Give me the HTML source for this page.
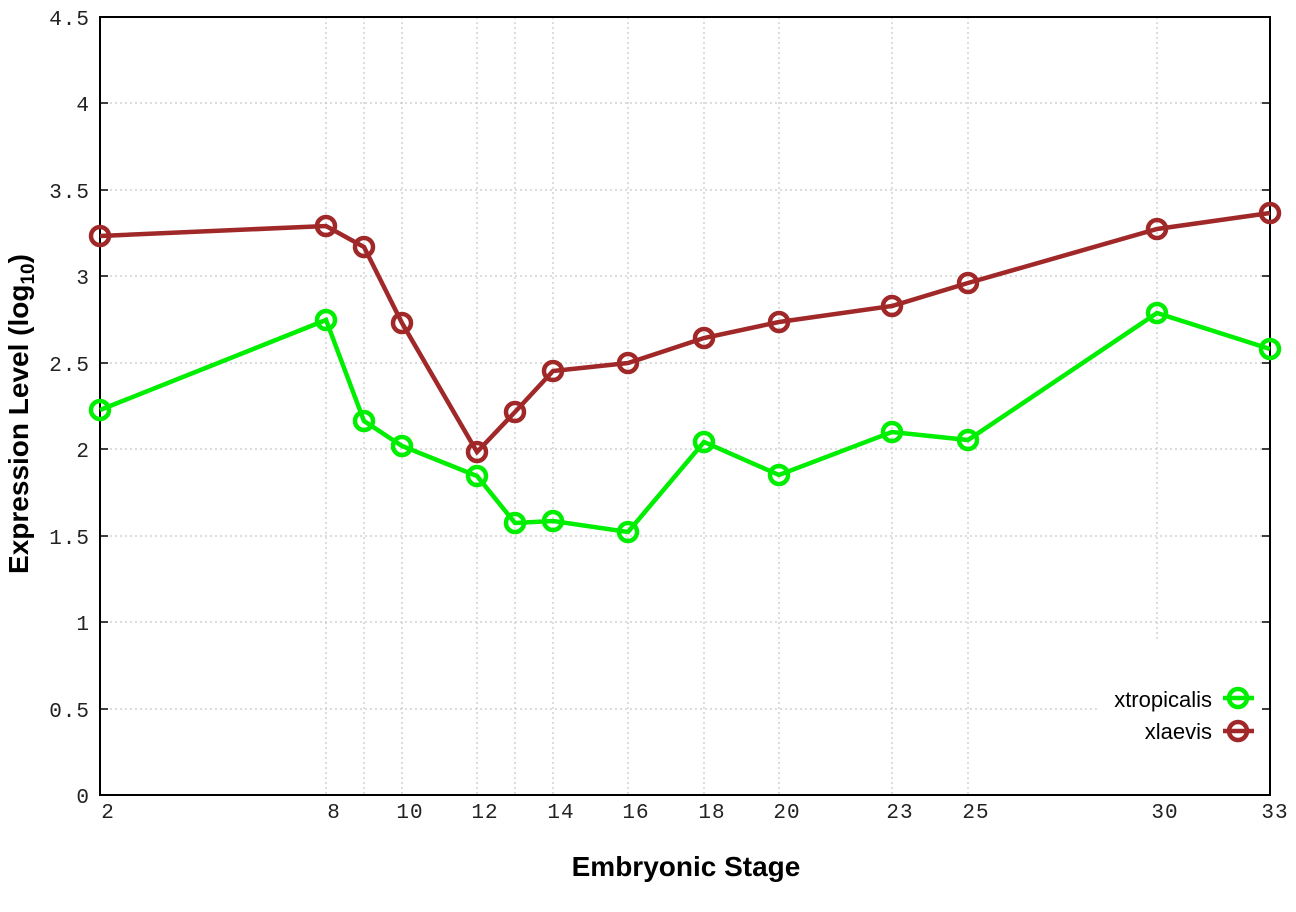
<!DOCTYPE html>
<html><head><meta charset="utf-8"><style>body{margin:0;background:#fff}</style></head><body>
<svg width="1296" height="907" xmlns="http://www.w3.org/2000/svg">
<rect width="1296" height="907" fill="#fff"/>
<g stroke="#bbb" stroke-width="1" stroke-dasharray="2,3">
<line x1="100" y1="103" x2="1270" y2="103"/><line x1="100" y1="190" x2="1270" y2="190"/><line x1="100" y1="276" x2="1270" y2="276"/><line x1="100" y1="363" x2="1270" y2="363"/><line x1="100" y1="449" x2="1270" y2="449"/><line x1="100" y1="536" x2="1270" y2="536"/><line x1="100" y1="622" x2="1270" y2="622"/><line x1="100" y1="709" x2="1100" y2="709"/>
<line x1="326" y1="17" x2="326" y2="795"/><line x1="364" y1="17" x2="364" y2="795"/><line x1="402" y1="17" x2="402" y2="795"/><line x1="477" y1="17" x2="477" y2="795"/><line x1="515" y1="17" x2="515" y2="795"/><line x1="553" y1="17" x2="553" y2="795"/><line x1="628" y1="17" x2="628" y2="795"/><line x1="704" y1="17" x2="704" y2="795"/><line x1="779" y1="17" x2="779" y2="795"/><line x1="892" y1="17" x2="892" y2="795"/><line x1="968" y1="17" x2="968" y2="795"/><line x1="1157" y1="17" x2="1157" y2="640"/>
</g>
<g stroke="#000" stroke-width="1.5">
<line x1="100" y1="103" x2="108" y2="103"/><line x1="100" y1="190" x2="108" y2="190"/><line x1="100" y1="276" x2="108" y2="276"/><line x1="100" y1="363" x2="108" y2="363"/><line x1="100" y1="449" x2="108" y2="449"/><line x1="100" y1="536" x2="108" y2="536"/><line x1="100" y1="622" x2="108" y2="622"/><line x1="100" y1="709" x2="108" y2="709"/>
<line x1="1262" y1="103" x2="1270" y2="103"/><line x1="1262" y1="190" x2="1270" y2="190"/><line x1="1262" y1="276" x2="1270" y2="276"/><line x1="1262" y1="363" x2="1270" y2="363"/><line x1="1262" y1="449" x2="1270" y2="449"/><line x1="1262" y1="536" x2="1270" y2="536"/><line x1="1262" y1="622" x2="1270" y2="622"/><line x1="1262" y1="709" x2="1270" y2="709"/>
</g>
<rect x="100" y="17" width="1170" height="778" fill="none" stroke="#000" stroke-width="2"/>
<g font-family="Liberation Mono, monospace" font-size="21" fill="#222" text-anchor="end" letter-spacing="1">
<text x="90" y="25">4.5</text><text x="90" y="111">4</text><text x="90" y="198">3.5</text><text x="90" y="284">3</text><text x="90" y="371">2.5</text><text x="90" y="457">2</text><text x="90" y="544">1.5</text><text x="90" y="630">1</text><text x="90" y="717">0.5</text><text x="90" y="803">0</text>
</g>
<g font-family="Liberation Mono, monospace" font-size="21" fill="#222" text-anchor="middle" letter-spacing="1">
<text x="108" y="818">2</text><text x="334" y="818">8</text><text x="410" y="818">10</text><text x="485" y="818">12</text><text x="561" y="818">14</text><text x="636" y="818">16</text><text x="712" y="818">18</text><text x="787" y="818">20</text><text x="900" y="818">23</text><text x="976" y="818">25</text><text x="1165" y="818">30</text><text x="1275" y="818">33</text>
</g>
<text x="686" y="876" font-family="Liberation Sans, sans-serif" font-weight="bold" font-size="28" text-anchor="middle">Embryonic Stage</text>
<text transform="translate(28,414) rotate(-90)" font-family="Liberation Sans, sans-serif" font-weight="bold" font-size="28" text-anchor="middle">Expression Level (log<tspan font-size="19" dy="6">10</tspan><tspan dy="-6">)</tspan></text>
<g fill="none" stroke-width="4.5">
<polyline stroke="#00ee00" points="100,410 326,320 364,421 402,446 477,476 515,523 553,521 628,532 704,442 779,475 892,432 968,440 1157,313 1270,349"/>
<g stroke="#00ee00">
<circle cx="100" cy="410" r="9"/><circle cx="326" cy="320" r="9"/><circle cx="364" cy="421" r="9"/><circle cx="402" cy="446" r="9"/><circle cx="477" cy="476" r="9"/><circle cx="515" cy="523" r="9"/><circle cx="553" cy="521" r="9"/><circle cx="628" cy="532" r="9"/><circle cx="704" cy="442" r="9"/><circle cx="779" cy="475" r="9"/><circle cx="892" cy="432" r="9"/><circle cx="968" cy="440" r="9"/><circle cx="1157" cy="313" r="9"/><circle cx="1270" cy="349" r="9"/>
<line x1="1223" y1="698" x2="1254" y2="698"/><circle cx="1238" cy="698" r="9"/>
</g>
<polyline stroke="#a02828" points="100,236 326,226 364,247 402,323 477,452 515,412 553,371 628,363 704,338 779,322 892,306 968,283 1157,229 1270,213"/>
<g stroke="#a02828">
<circle cx="100" cy="236" r="9"/><circle cx="326" cy="226" r="9"/><circle cx="364" cy="247" r="9"/><circle cx="402" cy="323" r="9"/><circle cx="477" cy="452" r="9"/><circle cx="515" cy="412" r="9"/><circle cx="553" cy="371" r="9"/><circle cx="628" cy="363" r="9"/><circle cx="704" cy="338" r="9"/><circle cx="779" cy="322" r="9"/><circle cx="892" cy="306" r="9"/><circle cx="968" cy="283" r="9"/><circle cx="1157" cy="229" r="9"/><circle cx="1270" cy="213" r="9"/>
<line x1="1223" y1="731" x2="1254" y2="731"/><circle cx="1238" cy="731" r="9"/>
</g>
</g>
<g font-family="Liberation Sans, sans-serif" font-size="22" text-anchor="end" fill="#000">
<text x="1212" y="707">xtropicalis</text><text x="1212" y="739">xlaevis</text>
</g>
</svg>
</body></html>
